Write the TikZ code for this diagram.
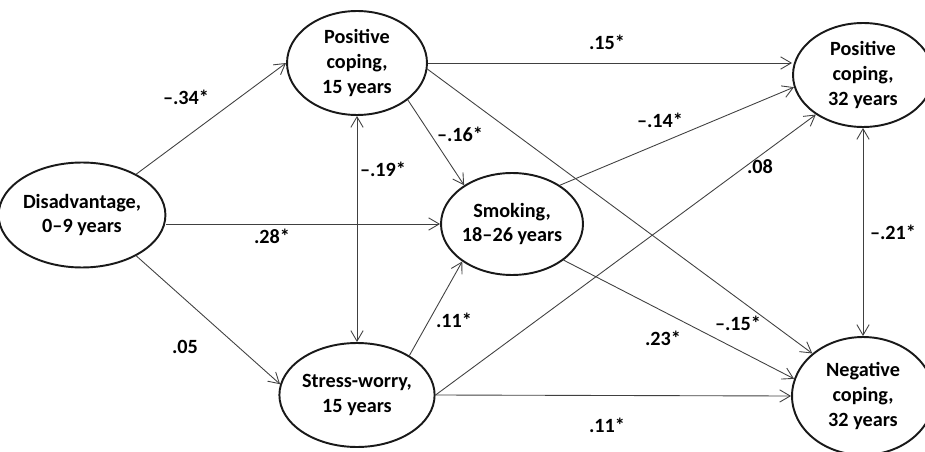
\documentclass[tikz,border=0pt]{standalone}
\usepackage{fontspec}
\setmainfont{Carlito}
\usetikzlibrary{shapes.geometric,arrows.meta}
\colorlet{lineGray}{black!75}
\colorlet{rimBlack}{black!90}
\tikzstyle{construct}=[ellipse,draw=rimBlack,line width=1.1pt,inner sep=0pt,minimum width=2.8cm,minimum height=2.08cm,align=center,font=\fontsize{11.5}{14}\selectfont\bfseries]
\tikzstyle{effect}=[draw=lineGray,line width=0.5pt,-{Straight Barb[length=6pt,width=7pt]}]
\tikzstyle{covary}=[draw=lineGray,line width=0.5pt,{Straight Barb[length=6pt,width=7pt]}-{Straight Barb[length=6pt,width=7pt]}]
\tikzstyle{coef}=[inner sep=1pt,font=\fontsize{11.5}{14}\selectfont\bfseries]

\begin{document}
\begin{tikzpicture}[x=0.02cm,y=-0.02cm]
\useasboundingbox (0,0) rectangle (925,452);
        % constructs
        \node[construct,minimum width=2.82cm,minimum height=2.1cm] (dis) 
        at (82,215) 
        {Disadvantage,\\0–9 years};
        \node[construct] (pcA) 
        at (357,63) 
        {Positive\\coping,\\15 years};
        \node[construct,minimum width=2.84cm,minimum height=2.04cm] (smo) 
        at (512,224) 
        {Smoking,\\18–26 years};
        \node[construct] (sw) 
        at (357,395) 
        {Stress-worry,\\15 years};
        \node[construct] (pcB) 
        at (863,75) 
        {Positive\\coping,\\32 years};
        \node[construct,minimum width=2.84cm,minimum height=2.36cm] (ncB) 
        at (863,396) 
        {Negative\\coping,\\32 years};
        % paths
        \foreach \a/\b in {dis.37/pcA.west, dis.east |- smo.west/smo.west, dis.-37/sw.172,
                pcA.-36/smo.141, sw.37/smo.217, pcA.east/pcA.east -| pcB.west,
                pcA.-5/ncB.140, smo.39/pcB.190, smo.-35/ncB.166,
                sw.east/pcB.220, sw.east/ncB.west} {
                \draw[effect] (\a) -- (\b);
		}
        \draw[covary] (pcA.south) -- (sw.north);
        \draw[covary] (pcB.south) -- (ncB.north);
        % coefficients
        \foreach \n/\x/\y/\t in {cA/186/97/–.34*, cB/272/236/.28*, cC/185/347/.05,
                cD/383/169/–.19*, cE/460/134/–.16*, cF/454/320/.11*,
                cG/607/42/.15*, cH/660/120/–.14*, cI/760/167/.08,
                cJ/738/323/–.15*, cK/663/338/.23*, cL/607/425/.11*,
                cM/893/232/–.21*} {
                \node[coef] (\n) 
                at (\x,\y) 
                {\t};
		}
\end{tikzpicture}
\end{document}
